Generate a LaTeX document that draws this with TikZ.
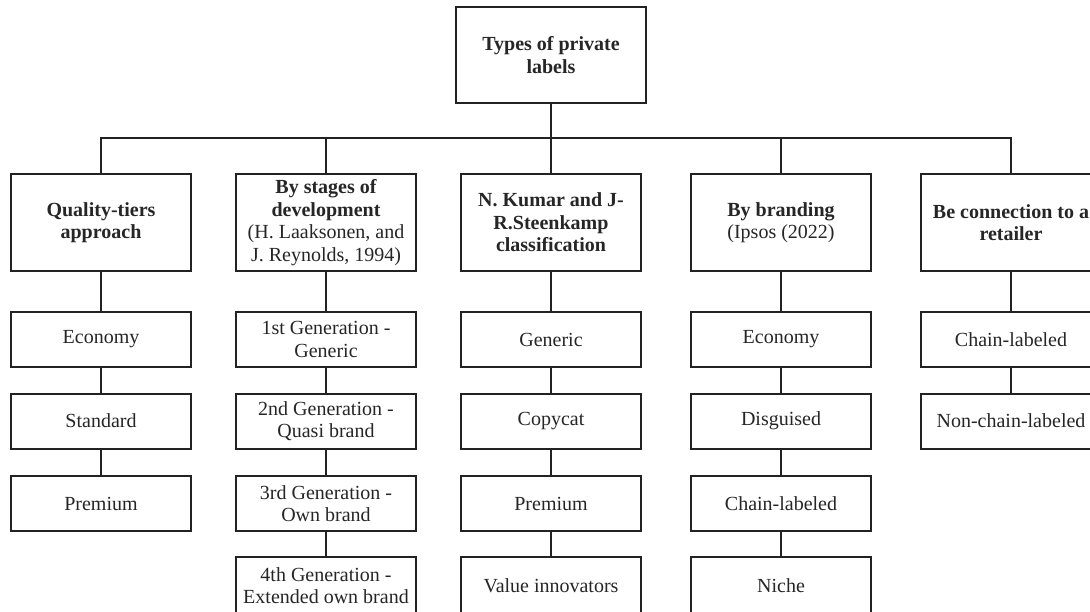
\documentclass[tikz,border=0pt]{standalone}
\usepackage{fontspec}
\setmainfont{Liberation Serif}
\definecolor{linec}{HTML}{222222}
\definecolor{textc}{HTML}{262626}
\begin{document}
\begin{tikzpicture}[x=1pt,y=-1pt,
  box/.style={draw=linec, line width=2pt, minimum width=180pt, inner sep=2pt, align=center, text=textc, font=\fontsize{20}{22.5}\selectfont},
  head/.style={box, minimum height=97pt, font=\bfseries\fontsize{20}{22.5}\selectfont},
  item/.style={box, minimum height=55pt},
  lastitem/.style={box, minimum height=57pt},
  link/.style={draw=linec, line width=2pt}]
\useasboundingbox (0,0) rectangle (1090,612);
\fill[white] (0,0) rectangle (1090,612);

% root
\node[head, minimum width=190pt, minimum height=96pt] (root) at (551,55) {Types of private\\labels};

% level 1
\node[head] (c1) at (101,222.5) {Quality-tiers\\approach};
\node[head] (c2) at (326,222.5) {By stages of\\development\\{\mdseries (H. Laaksonen, and}\\{\mdseries J. Reynolds, 1994)}};
\node[head] (c3) at (551,222.5) {N. Kumar and J-\\R.Steenkamp\\classification};
\node[head] (c4) at (781,222.5) {By branding\\{\mdseries (Ipsos (2022)}};
\node[head] (c5) at (1011,222.5) {Be connection to a\\retailer};

% column 1
\node[item] (a1) at (101,339.5) {Economy};
\node[item] (a2) at (101,421) {Standard};
\node[item] (a3) at (101,503.5) {Premium};

% column 2
\node[item] (b1) at (326,339.5) {1st Generation -\\Generic};
\node[item] (b2) at (326,421) {2nd Generation -\\Quasi brand};
\node[item] (b3) at (326,503.5) {3rd Generation -\\Own brand};
\node[lastitem] (b4) at (326,585.5) {4th Generation -\\Extended own brand};

% column 3
\node[item] (d1) at (551,339.5) {Generic};
\node[item] (d2) at (551,421) {Copycat};
\node[item] (d3) at (551,503.5) {Premium};
\node[lastitem] (d4) at (551,585.5) {Value innovators};

% column 4
\node[item] (e1) at (781,339.5) {Economy};
\node[item] (e2) at (781,421) {Disguised};
\node[item] (e3) at (781,503.5) {Chain-labeled};
\node[lastitem] (e4) at (781,585.5) {Niche};

% column 5
\node[item] (f1) at (1011,339.5) {Chain-labeled};
\node[item] (f2) at (1011,421) {Non-chain-labeled};

% bus
\coordinate (bus) at (551,137.7);
\draw[link] (root.south) -- (bus);
\draw[link] (c1.north) |- (bus) -| (c5.north);
\draw[link] (bus) -| (c2.north);
\draw[link] (bus) -- (c3.north);
\draw[link] (bus) -| (c4.north);

% vertical chains
\draw[link] (c1.south) -- (a1.north);
\draw[link] (a1.south) -- (a2.north);
\draw[link] (a2.south) -- (a3.north);

\draw[link] (c2.south) -- (b1.north);
\draw[link] (b1.south) -- (b2.north);
\draw[link] (b2.south) -- (b3.north);
\draw[link] (b3.south) -- (b4.north);

\draw[link] (c3.south) -- (d1.north);
\draw[link] (d1.south) -- (d2.north);
\draw[link] (d2.south) -- (d3.north);
\draw[link] (d3.south) -- (d4.north);

\draw[link] (c4.south) -- (e1.north);
\draw[link] (e1.south) -- (e2.north);
\draw[link] (e2.south) -- (e3.north);
\draw[link] (e3.south) -- (e4.north);

\draw[link] (c5.south) -- (f1.north);
\draw[link] (f1.south) -- (f2.north);
\end{tikzpicture}
\end{document}
